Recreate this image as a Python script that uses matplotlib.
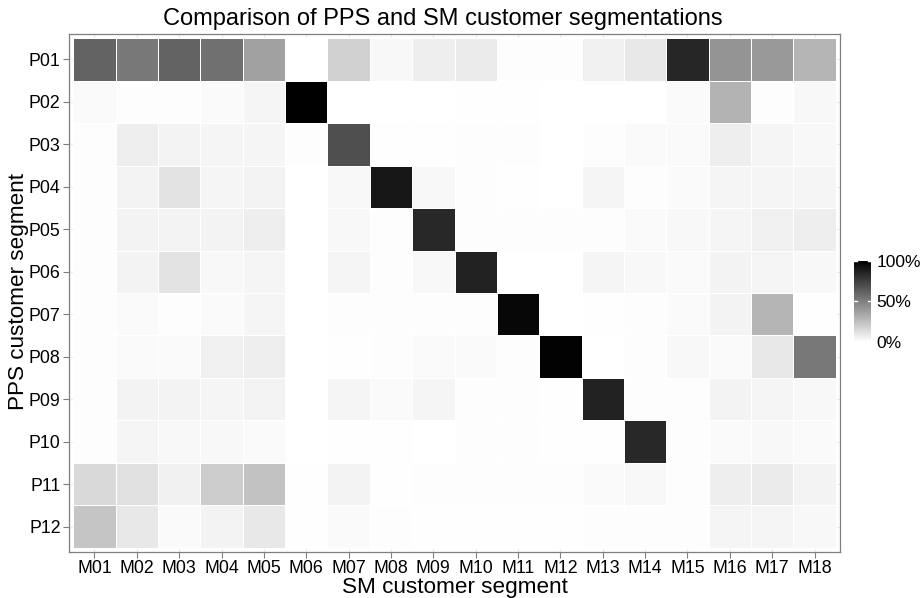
import numpy as np
import matplotlib
matplotlib.use("Agg")
import matplotlib.pyplot as plt
from matplotlib.colors import LinearSegmentedColormap

plt.rcParams['font.family'] = ['Liberation Sans', 'DejaVu Sans']

# セグメント名
pps_segments = ["P01", "P02", "P03", "P04", "P05", "P06",
                "P07", "P08", "P09", "P10", "P11", "P12"]
sm_segments = ["M01", "M02", "M03", "M04", "M05", "M06", "M07", "M08", "M09",
               "M10", "M11", "M12", "M13", "M14", "M15", "M16", "M17", "M18"]

# 各行の割合 (0〜1)、画像から読み取り
p01 = [0.61, 0.53, 0.61, 0.56, 0.37, 0.00, 0.18, 0.03, 0.07, 0.08, 0.01, 0.01, 0.06, 0.09, 0.85, 0.42, 0.40, 0.29]
p02 = [0.02, 0.01, 0.01, 0.02, 0.04, 1.00, 0.00, 0.00, 0.00, 0.005, 0.005, 0.00, 0.00, 0.00, 0.02, 0.30, 0.01, 0.03]
p03 = [0.01, 0.07, 0.05, 0.04, 0.04, 0.01, 0.69, 0.005, 0.005, 0.01, 0.01, 0.00, 0.01, 0.02, 0.02, 0.07, 0.04, 0.03]
p04 = [0.01, 0.05, 0.11, 0.04, 0.05, 0.00, 0.03, 0.91, 0.03, 0.01, 0.005, 0.00, 0.04, 0.01, 0.02, 0.04, 0.04, 0.04]
p05 = [0.01, 0.05, 0.05, 0.05, 0.07, 0.00, 0.03, 0.01, 0.84, 0.01, 0.01, 0.01, 0.01, 0.02, 0.03, 0.04, 0.06, 0.07]
p06 = [0.01, 0.05, 0.11, 0.03, 0.04, 0.00, 0.04, 0.01, 0.03, 0.87, 0.00, 0.00, 0.04, 0.03, 0.02, 0.05, 0.04, 0.03]
p07 = [0.01, 0.02, 0.01, 0.02, 0.04, 0.00, 0.01, 0.01, 0.01, 0.01, 0.97, 0.00, 0.005, 0.01, 0.02, 0.05, 0.29, 0.005]
p08 = [0.01, 0.02, 0.02, 0.06, 0.07, 0.00, 0.005, 0.01, 0.02, 0.02, 0.01, 0.99, 0.00, 0.01, 0.03, 0.02, 0.09, 0.53]
p09 = [0.01, 0.05, 0.05, 0.04, 0.05, 0.00, 0.04, 0.02, 0.04, 0.01, 0.01, 0.005, 0.87, 0.01, 0.01, 0.05, 0.04, 0.03]
p10 = [0.01, 0.04, 0.03, 0.03, 0.02, 0.00, 0.005, 0.005, 0.00, 0.01, 0.01, 0.005, 0.005, 0.84, 0.01, 0.02, 0.03, 0.02]
p11 = [0.15, 0.12, 0.06, 0.20, 0.24, 0.005, 0.05, 0.005, 0.01, 0.01, 0.01, 0.01, 0.02, 0.03, 0.01, 0.07, 0.08, 0.05]
p12 = [0.23, 0.09, 0.02, 0.05, 0.09, 0.005, 0.02, 0.01, 0.005, 0.005, 0.005, 0.005, 0.01, 0.01, 0.01, 0.04, 0.04, 0.03]

share = np.array([p01, p02, p03, p04, p05, p06, p07, p08, p09, p10, p11, p12])

cmap = LinearSegmentedColormap.from_list("wb", ["white", "black"])

fig = plt.figure(figsize=(9.23, 5.98), dpi=100)
fig.set_facecolor("white")

W, H = 923, 598
ax = fig.add_axes([69 / W, 1 - 552 / H, 771 / W, 518 / H])

# 背景のグリッド
for i in range(len(sm_segments)):
    ax.axvline(i, color="#ebebeb", lw=1, zorder=0)
for j in range(len(pps_segments)):
    ax.axhline(j, color="#ebebeb", lw=1, zorder=0)

x_edges = np.arange(len(sm_segments) + 1) - 0.5
y_edges = np.arange(len(pps_segments) + 1) - 0.5
mesh = ax.pcolormesh(x_edges, y_edges, share, cmap=cmap, vmin=0, vmax=1,
                     edgecolors="white", linewidth=0.6, zorder=1)

ax.set_xlim(-0.6, len(sm_segments) - 0.4)
ax.set_ylim(len(pps_segments) - 0.4, -0.6)

ax.set_xticks(np.arange(len(sm_segments)))
ax.set_xticklabels(sm_segments)
ax.set_yticks(np.arange(len(pps_segments)))
ax.set_yticklabels(pps_segments)
ax.tick_params(axis="both", length=4, width=0.8, color="#7f7f7f",
               labelsize=12.8, labelcolor="black", pad=2)

for s in ax.spines.values():
    s.set_color("#7f7f7f")
    s.set_linewidth(0.9)

fig.text(443 / W, 1 - 19 / H, "Comparison of PPS and SM customer segmentations",
         ha="center", va="center", fontsize=17)
fig.text(455 / W, 1 - 593 / H, "SM customer segment",
         ha="center", va="baseline", fontsize=16.2)
fig.text(19 / W, 1 - 292 / H, "PPS customer segment", rotation=90,
         ha="center", va="center", fontsize=16.2)

# カラーバー
cax = fig.add_axes([854 / W, 1 - 342 / H, 17 / W, 81 / H])
cb = fig.colorbar(mesh, cax=cax, ticks=[0, 0.5, 1])
cb.outline.set_visible(False)
cb.ax.set_yticklabels(["0%", "50%", "100%"])
cax.tick_params(length=0, labelsize=12.5, pad=4)
for v in [0, 0.5, 1]:
    cax.plot([0, 0.2], [v, v], color="white", lw=1, transform=cax.get_yaxis_transform())
    cax.plot([0.8, 1], [v, v], color="white", lw=1, transform=cax.get_yaxis_transform())

fig.savefig("out.png", dpi=100)
